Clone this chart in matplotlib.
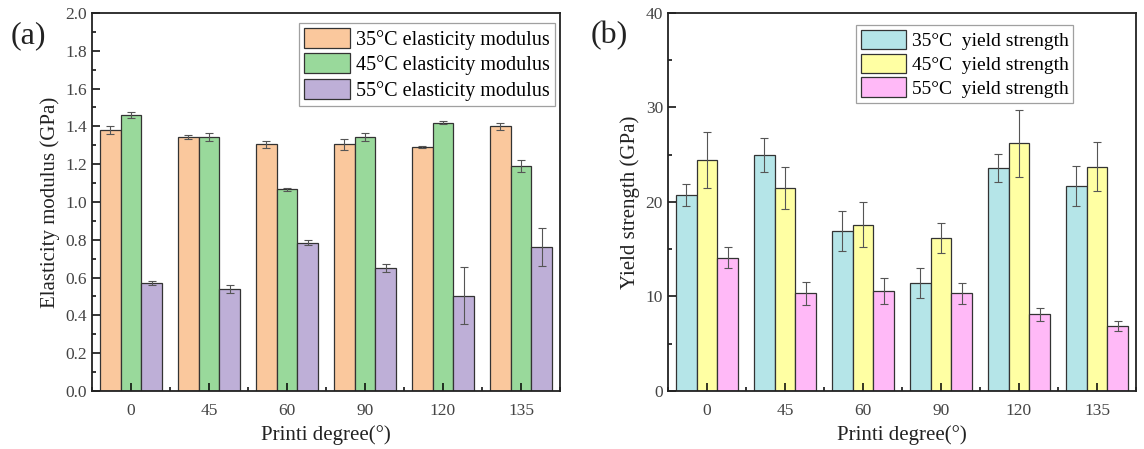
import matplotlib.pyplot as plt
import numpy as np
from matplotlib.ticker import MultipleLocator

plt.rcParams['font.family'] = ['Liberation Serif', 'DejaVu Serif']

degrees = ['0', '45', '60', '90', '120', '135']

# panel (a) elasticity modulus (GPa)
mod_35 = [1.38, 1.345, 1.305, 1.305, 1.29, 1.40]
mod_35_err = [0.02, 0.01, 0.02, 0.03, 0.005, 0.02]
mod_45 = [1.46, 1.345, 1.068, 1.345, 1.42, 1.19]
mod_45_err = [0.015, 0.02, 0.008, 0.02, 0.01, 0.03]
mod_55 = [0.57, 0.54, 0.785, 0.652, 0.505, 0.762]
mod_55_err = [0.01, 0.02, 0.015, 0.02, 0.15, 0.10]

# panel (b) yield strength (GPa)
ys_35 = [20.75, 25.0, 16.9, 11.4, 23.6, 21.7]
ys_35_err = [1.2, 1.8, 2.1, 1.6, 1.5, 2.1]
ys_45 = [24.45, 21.5, 17.6, 16.2, 26.2, 23.75]
ys_45_err = [3.0, 2.2, 2.35, 1.55, 3.55, 2.55]
ys_55 = [14.1, 10.35, 10.6, 10.35, 8.1, 6.9]
ys_55_err = [1.1, 1.2, 1.35, 1.1, 0.7, 0.55]

fig = plt.figure(figsize=(11.44, 4.49), dpi=100)
ax1 = fig.add_axes([0.0804, 0.1292, 0.4091, 0.8419])
ax2 = fig.add_axes([0.5839, 0.1292, 0.4091, 0.8419])

x = np.arange(len(degrees))
w = 0.265
ekw = dict(ecolor='#555555', elinewidth=0.8, capsize=3, capthick=0.8)


def draw(ax, series, colors, labels, ylim, major, minor, fmt, fs, anchor):
    for k, (vals, errs) in enumerate(series):
        ax.bar(x + (k - 1) * w, vals, w, yerr=errs, color=colors[k],
               edgecolor='#333333', linewidth=0.9, label=labels[k],
               error_kw=ekw)
    ax.set_xlim(-0.5, 5.5)
    ax.set_ylim(*ylim)
    ax.set_xticks(x)
    ax.set_xticklabels(degrees)
    ax.set_xticks(np.arange(-0.5, 5.6, 1), minor=True)
    ax.yaxis.set_major_locator(MultipleLocator(major))
    ax.yaxis.set_minor_locator(MultipleLocator(minor))
    ax.yaxis.set_major_formatter(fmt)
    ax.tick_params(which='both', direction='in', labelsize=12.5,
                   labelcolor='#444444', top=False, right=False)
    ax.tick_params(which='major', length=6, width=1.1)
    ax.tick_params(which='minor', length=3, width=1.1)
    ax.tick_params(axis='x', which='major', pad=9)
    for s in ax.spines.values():
        s.set_linewidth(1.3)
        s.set_color('#222222')
    ax.set_xlabel('Printi degree(°)', fontsize=15, color='#222222')
    leg = ax.legend(loc='upper right', fontsize=fs, frameon=True,
                    fancybox=False, edgecolor='#888888',
                    handlelength=2.3, handleheight=1.15, handletextpad=0.3,
                    borderpad=0.25, labelspacing=0.18, borderaxespad=0,
                    bbox_to_anchor=anchor)
    leg.get_frame().set_linewidth(0.9)


draw(ax1, [(mod_35, mod_35_err), (mod_45, mod_45_err), (mod_55, mod_55_err)],
     ['#FAC89D', '#99D99B', '#BEAFD7'],
     ['35°C elasticity modulus', '45°C elasticity modulus', '55°C elasticity modulus'],
     (0, 2.0), 0.2, 0.1, '{x:.1f}', 14.5, (0.989, 0.974))
ax1.set_ylabel('Elasticity modulus (GPa)', fontsize=15, color='#222222')

draw(ax2, [(ys_35, ys_35_err), (ys_45, ys_45_err), (ys_55, ys_55_err)],
     ['#B5E5E8', '#FFFFA3', '#FFB9F7'],
     ['35°C  yield strength', '45°C  yield strength', '55°C  yield strength'],
     (0, 40), 10, 5, '{x:.0f}', 14, (0.866, 0.968))
ax2.set_ylabel('Yield strength (GPa)', fontsize=15, color='#222222')

fig.text(0.009, 0.92, '(a)', fontsize=23, color='#222222', va='center')
fig.text(0.516, 0.92, '(b)', fontsize=23, color='#222222', va='center')

fig.savefig('out.png', dpi=100, facecolor='white')
